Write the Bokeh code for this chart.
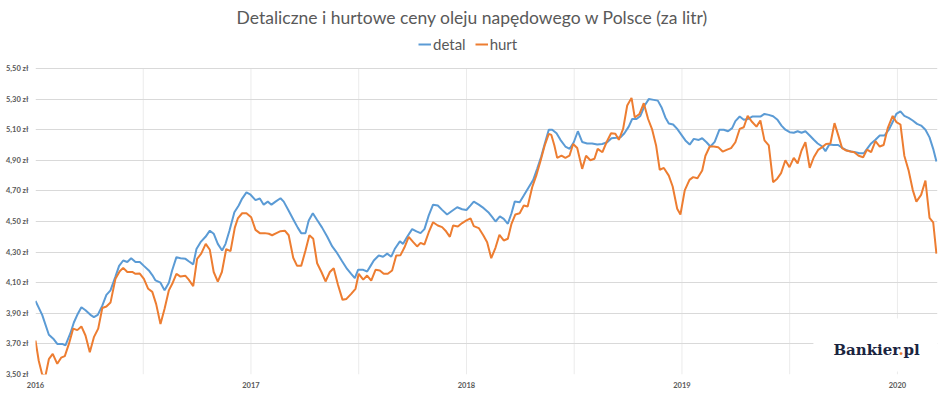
from bokeh.plotting import figure
from bokeh.models import (FixedTicker, CustomJSTickFormatter, Legend, LegendItem,
                          Label, BoxAnnotation, Range1d)
from bokeh.embed import file_html
from bokeh.resources import INLINE

# ---------------- data ----------------
t_detal = [2016.000, 2016.031, 2016.062, 2016.085, 2016.101, 2016.124, 2016.139, 2016.162, 2016.178, 2016.194,
           2016.213, 2016.232, 2016.255, 2016.271, 2016.289, 2016.310, 2016.329, 2016.348, 2016.371, 2016.388,
           2016.407, 2016.426, 2016.444, 2016.464, 2016.484, 2016.503, 2016.526, 2016.542, 2016.557, 2016.580,
           2016.599, 2016.619, 2016.634, 2016.654, 2016.673, 2016.696, 2016.711, 2016.732, 2016.747, 2016.766,
           2016.789, 2016.809, 2016.827, 2016.846, 2016.866, 2016.882, 2016.900, 2016.923, 2016.943, 2016.959,
           2016.979, 2016.998, 2017.021, 2017.041, 2017.059, 2017.078, 2017.095, 2017.114, 2017.137, 2017.152,
           2017.175, 2017.199, 2017.217, 2017.233, 2017.253, 2017.268, 2017.287, 2017.307, 2017.330, 2017.354,
           2017.377, 2017.400, 2017.423, 2017.446, 2017.465, 2017.482, 2017.497, 2017.521, 2017.539, 2017.555,
           2017.570, 2017.593, 2017.613, 2017.632, 2017.651, 2017.667, 2017.691, 2017.706, 2017.725, 2017.748,
           2017.768, 2017.787, 2017.805, 2017.825, 2017.845, 2017.867, 2017.887, 2017.910, 2017.934, 2017.957,
           2017.980, 2018.000, 2018.019, 2018.034, 2018.057, 2018.080, 2018.104, 2018.119, 2018.135, 2018.155,
           2018.173, 2018.192, 2018.209, 2018.224, 2018.247, 2018.266, 2018.289, 2018.310, 2018.328, 2018.347,
           2018.363, 2018.382, 2018.398, 2018.418, 2018.436, 2018.459, 2018.479, 2018.498, 2018.517, 2018.537,
           2018.560, 2018.583, 2018.607, 2018.630, 2018.653, 2018.673, 2018.695, 2018.715, 2018.733, 2018.753,
           2018.769, 2018.789, 2018.807, 2018.827, 2018.846, 2018.869, 2018.888, 2018.905, 2018.923, 2018.939,
           2018.959, 2018.978, 2019.001, 2019.016, 2019.036, 2019.055, 2019.078, 2019.094, 2019.114, 2019.132,
           2019.152, 2019.174, 2019.194, 2019.214, 2019.233, 2019.248, 2019.268, 2019.287, 2019.307, 2019.326,
           2019.346, 2019.364, 2019.383, 2019.403, 2019.423, 2019.442, 2019.462, 2019.480, 2019.500, 2019.519,
           2019.537, 2019.555, 2019.573, 2019.593, 2019.612, 2019.630, 2019.651, 2019.666, 2019.684, 2019.704,
           2019.725, 2019.746, 2019.767, 2019.785, 2019.805, 2019.825, 2019.844, 2019.859, 2019.878, 2019.898,
           2019.918, 2019.940, 2019.960, 2019.978, 2019.995, 2020.014, 2020.032, 2020.052, 2020.071, 2020.091,
           2020.110, 2020.130, 2020.149, 2020.166, 2020.181]
detal = [3.98, 3.89, 3.76, 3.73, 3.70, 3.70, 3.69, 3.77, 3.84, 3.89,
         3.94, 3.92, 3.89, 3.875, 3.89, 3.95, 4.02, 4.05, 4.14, 4.21,
         4.245, 4.235, 4.26, 4.235, 4.235, 4.21, 4.18, 4.15, 4.115, 4.10,
         4.05, 4.10, 4.18, 4.267, 4.26, 4.256, 4.24, 4.22, 4.32, 4.365,
         4.40, 4.44, 4.42, 4.354, 4.31, 4.354, 4.44, 4.56, 4.605, 4.65,
         4.69, 4.675, 4.64, 4.65, 4.61, 4.63, 4.61, 4.63, 4.652, 4.63,
         4.57, 4.507, 4.46, 4.424, 4.424, 4.507, 4.554, 4.51, 4.46, 4.40,
         4.337, 4.293, 4.24, 4.19, 4.158, 4.13, 4.184, 4.184, 4.173, 4.21,
         4.245, 4.278, 4.27, 4.29, 4.27, 4.32, 4.37, 4.354, 4.40, 4.45,
         4.435, 4.424, 4.45, 4.54, 4.61, 4.605, 4.576, 4.546, 4.57, 4.593,
         4.58, 4.575, 4.605, 4.63, 4.61, 4.587, 4.557, 4.53, 4.50, 4.533,
         4.517, 4.485, 4.554, 4.63, 4.626, 4.67, 4.724, 4.772, 4.844, 4.925,
         5.007, 5.10, 5.10, 5.077, 5.034, 4.99, 4.975, 5.018, 5.09, 5.02,
         5.01, 5.01, 5.003, 5.007, 5.018, 5.044, 5.047, 5.05, 5.077, 5.12,
         5.17, 5.17, 5.19, 5.258, 5.30, 5.295, 5.29, 5.247, 5.18, 5.14,
         5.134, 5.105, 5.06, 5.03, 5.003, 5.04, 5.033, 5.044, 5.018, 4.99,
         5.02, 5.10, 5.10, 5.09, 5.11, 5.156, 5.186, 5.165, 5.17, 5.186,
         5.186, 5.186, 5.203, 5.197, 5.188, 5.167, 5.127, 5.10, 5.084, 5.08,
         5.09, 5.08, 5.09, 5.062, 5.034, 5.01, 4.99, 4.96, 5.003, 5.00,
         5.00, 4.98, 4.964, 4.957, 4.953, 4.946, 4.946, 4.975, 5.01, 5.034,
         5.062, 5.062, 5.10, 5.15, 5.203, 5.22, 5.19, 5.177, 5.16, 5.138,
         5.127, 5.10, 5.05, 4.975, 4.892]

t_hurt = [2016.000, 2016.015, 2016.031, 2016.046, 2016.062, 2016.080, 2016.101, 2016.119, 2016.136, 2016.155,
          2016.175, 2016.194, 2016.213, 2016.232, 2016.252, 2016.271, 2016.291, 2016.310, 2016.329, 2016.348,
          2016.371, 2016.391, 2016.407, 2016.426, 2016.449, 2016.464, 2016.484, 2016.503, 2016.523, 2016.542,
          2016.560, 2016.580, 2016.599, 2016.619, 2016.637, 2016.654, 2016.673, 2016.696, 2016.711, 2016.732,
          2016.750, 2016.769, 2016.790, 2016.809, 2016.827, 2016.846, 2016.865, 2016.885, 2016.905, 2016.925,
          2016.939, 2016.959, 2016.979, 2017.001, 2017.021, 2017.041, 2017.064, 2017.083, 2017.098, 2017.118,
          2017.137, 2017.157, 2017.175, 2017.196, 2017.214, 2017.233, 2017.253, 2017.271, 2017.289, 2017.307,
          2017.327, 2017.346, 2017.366, 2017.384, 2017.403, 2017.425, 2017.443, 2017.465, 2017.485, 2017.500,
          2017.521, 2017.539, 2017.558, 2017.578, 2017.598, 2017.616, 2017.635, 2017.655, 2017.674, 2017.694,
          2017.712, 2017.732, 2017.753, 2017.771, 2017.787, 2017.805, 2017.825, 2017.845, 2017.867, 2017.887,
          2017.903, 2017.923, 2017.938, 2017.960, 2017.980, 2018.000, 2018.019, 2018.034, 2018.057, 2018.078,
          2018.096, 2018.115, 2018.135, 2018.153, 2018.173, 2018.192, 2018.209, 2018.227, 2018.247, 2018.266,
          2018.284, 2018.305, 2018.325, 2018.343, 2018.363, 2018.382, 2018.394, 2018.408, 2018.421, 2018.441,
          2018.459, 2018.478, 2018.495, 2018.514, 2018.537, 2018.555, 2018.575, 2018.594, 2018.609, 2018.631,
          2018.650, 2018.671, 2018.691, 2018.707, 2018.727, 2018.746, 2018.766, 2018.781, 2018.803, 2018.823,
          2018.843, 2018.862, 2018.880, 2018.897, 2018.916, 2018.939, 2018.957, 2018.978, 2018.993, 2019.013,
          2019.035, 2019.052, 2019.072, 2019.094, 2019.109, 2019.129, 2019.148, 2019.168, 2019.189, 2019.210,
          2019.228, 2019.248, 2019.268, 2019.287, 2019.305, 2019.326, 2019.346, 2019.364, 2019.383, 2019.403,
          2019.423, 2019.442, 2019.460, 2019.480, 2019.499, 2019.519, 2019.537, 2019.555, 2019.573, 2019.593,
          2019.612, 2019.632, 2019.651, 2019.669, 2019.689, 2019.708, 2019.725, 2019.743, 2019.763, 2019.782,
          2019.800, 2019.820, 2019.841, 2019.859, 2019.878, 2019.898, 2019.918, 2019.936, 2019.955, 2019.978,
          2019.995, 2020.014, 2020.032, 2020.052, 2020.071, 2020.088, 2020.110, 2020.130, 2020.149, 2020.166,
          2020.181]
hurt = [3.722, 3.59, 3.50, 3.49, 3.60, 3.635, 3.57, 3.61, 3.62, 3.70,
        3.80, 3.79, 3.814, 3.755, 3.646, 3.744, 3.80, 3.935, 3.944, 3.97,
        4.125, 4.175, 4.197, 4.17, 4.17, 4.158, 4.16, 4.125, 4.06, 4.04,
        3.96, 3.83, 3.93, 4.05, 4.10, 4.158, 4.14, 4.145, 4.12, 4.077,
        4.256, 4.29, 4.354, 4.315, 4.17, 4.107, 4.17, 4.32, 4.306, 4.46,
        4.52, 4.554, 4.554, 4.528, 4.445, 4.424, 4.424, 4.42, 4.41, 4.424,
        4.437, 4.44, 4.41, 4.263, 4.21, 4.21, 4.31, 4.41, 4.387, 4.227,
        4.17, 4.108, 4.17, 4.195, 4.09, 3.988, 3.994, 4.027, 4.06, 4.158,
        4.12, 4.147, 4.114, 4.184, 4.18, 4.158, 4.158, 4.18, 4.278, 4.28,
        4.33, 4.40, 4.365, 4.337, 4.36, 4.35, 4.43, 4.495, 4.474, 4.463,
        4.44, 4.40, 4.474, 4.467, 4.49, 4.507, 4.52, 4.47, 4.457, 4.41,
        4.365, 4.26, 4.33, 4.413, 4.376, 4.387, 4.485, 4.546, 4.554, 4.605,
        4.598, 4.724, 4.805, 4.892, 4.997, 5.073, 5.066, 4.997, 4.916, 4.93,
        4.916, 4.93, 5.007, 4.98, 4.844, 4.93, 4.90, 4.91, 4.975, 4.953,
        5.018, 5.077, 5.073, 5.034, 5.105, 5.258, 5.308, 5.18, 5.203, 5.273,
        5.17, 5.10, 4.997, 4.838, 4.85, 4.80, 4.729, 4.583, 4.546, 4.703,
        4.772, 4.79, 4.783, 4.833, 4.93, 4.99, 4.99, 4.986, 4.957, 4.97,
        4.98, 5.018, 5.105, 5.116, 5.19, 5.15, 5.12, 5.16, 5.03, 4.997,
        4.757, 4.78, 4.816, 4.90, 4.855, 4.916, 4.88, 4.964, 5.018, 4.85,
        4.92, 4.968, 4.986, 5.007, 5.01, 5.143, 5.066, 4.98, 4.964, 4.957,
        4.953, 4.93, 4.92, 4.97, 4.953, 5.025, 4.99, 5.00, 5.11, 5.19,
        5.15, 5.134, 4.93, 4.833, 4.707, 4.63, 4.674, 4.768, 4.524, 4.495,
        4.29]

series_names = ["detal", "hurt"]
year_ticks = [2016, 2017, 2018, 2019, 2020]
grid_ticks = [2016.5, 2017, 2017.5, 2018, 2018.5, 2019, 2019.5, 2020]
y_ticks = [3.5, 3.7, 3.9, 4.1, 4.3, 4.5, 4.7, 4.9, 5.1, 5.3, 5.5]
y_min, y_max = 3.5, 5.5
title_text = "Detaliczne i hurtowe ceny oleju napędowego w Polsce (za litr)"

BLUE = "#5B9BD5"
ORANGE = "#ED7D31"
GREY_TXT = "#595959"
GRID = "#D9D9D9"
FONT = "Lato"

# frame spans the full height above the x axis; the value area is 3.50..5.50,
# the strip above it holds the title and the legend
FRAME_H = 374
PX_PER_UNIT = 153.0
p = figure(width=945, height=395, output_backend="svg", toolbar_location=None,
           x_range=Range1d(2016.0, 2020.186),
           y_range=Range1d(y_min, y_min + FRAME_H / PX_PER_UNIT),
           min_border_left=35, min_border_right=8, min_border_bottom=21, min_border_top=0)

# vertical grid lines only across the value area
p.segment(x0=grid_ticks, y0=[y_min] * len(grid_ticks), x1=grid_ticks, y1=[y_max] * len(grid_ticks),
          line_color="#EBEBEB", line_width=1, level="underlay")

r1 = p.line(t_detal, detal, line_color=BLUE, line_width=2)
r2 = p.line(t_hurt, hurt, line_color=ORANGE, line_width=2)

# title
p.add_layout(Label(x=437, y=FRAME_H - 17, x_units="screen", y_units="screen",
                   text=title_text, text_align="center", text_baseline="middle",
                   text_font=FONT, text_font_size="17.5px", text_color=GREY_TXT))

legend = Legend(items=[LegendItem(label=series_names[0], renderers=[r1]),
                       LegendItem(label=series_names[1], renderers=[r2])],
                orientation="horizontal", location=(383, FRAME_H - 45 - 8))
legend.label_text_font = FONT
legend.label_text_font_size = "15px"
legend.label_text_color = GREY_TXT
legend.glyph_width = 13
legend.glyph_height = 16
legend.label_height = 16
legend.label_standoff = 2
legend.spacing = 9
legend.padding = 0
legend.margin = 0
legend.border_line_color = None
legend.background_fill_alpha = 0
p.add_layout(legend)

# axes
p.xaxis.ticker = FixedTicker(ticks=year_ticks)
p.yaxis.ticker = FixedTicker(ticks=y_ticks)
p.yaxis.formatter = CustomJSTickFormatter(code="return tick.toFixed(2).replace('.', ',') + ' zł';")
for ax in (p.xaxis[0], p.yaxis[0]):
    ax.axis_line_color = None
    ax.major_tick_line_color = None
    ax.minor_tick_line_color = None
    ax.major_tick_out = 0
    ax.major_tick_in = 0
    ax.minor_tick_out = 0
    ax.minor_tick_in = 0
    ax.major_label_text_font = FONT
    ax.major_label_text_font_size = "7.5px"
    ax.major_label_text_font_style = "bold"
    ax.major_label_text_color = GREY_TXT
p.yaxis.major_label_standoff = 7
p.xaxis.major_label_standoff = 7

p.xgrid.visible = False
p.ygrid.ticker = FixedTicker(ticks=y_ticks)
p.ygrid.grid_line_color = GRID
p.outline_line_color = None

# logo area
p.add_layout(BoxAnnotation(left=2019.61, bottom=3.52, top=3.866, fill_color="white",
                           fill_alpha=1, line_alpha=0))
logo_font = "DejaVu Serif"
p.add_layout(Label(x=2019.703, y=3.661, text="Bankier", text_font=logo_font, text_font_size="15px",
                   text_font_style="bold", text_color="#1B2440", text_baseline="alphabetic"))
p.add_layout(Label(x=2019.703, y=3.661, x_offset=65, text=".", text_font=logo_font, text_font_size="15px",
                   text_font_style="bold", text_color=ORANGE, text_baseline="alphabetic"))
p.add_layout(Label(x=2019.703, y=3.661, x_offset=70, text="pl", text_font=logo_font, text_font_size="15px",
                   text_font_style="bold", text_color="#1B2440", text_baseline="alphabetic"))

open("out.html", "w").write(file_html(p, INLINE))
